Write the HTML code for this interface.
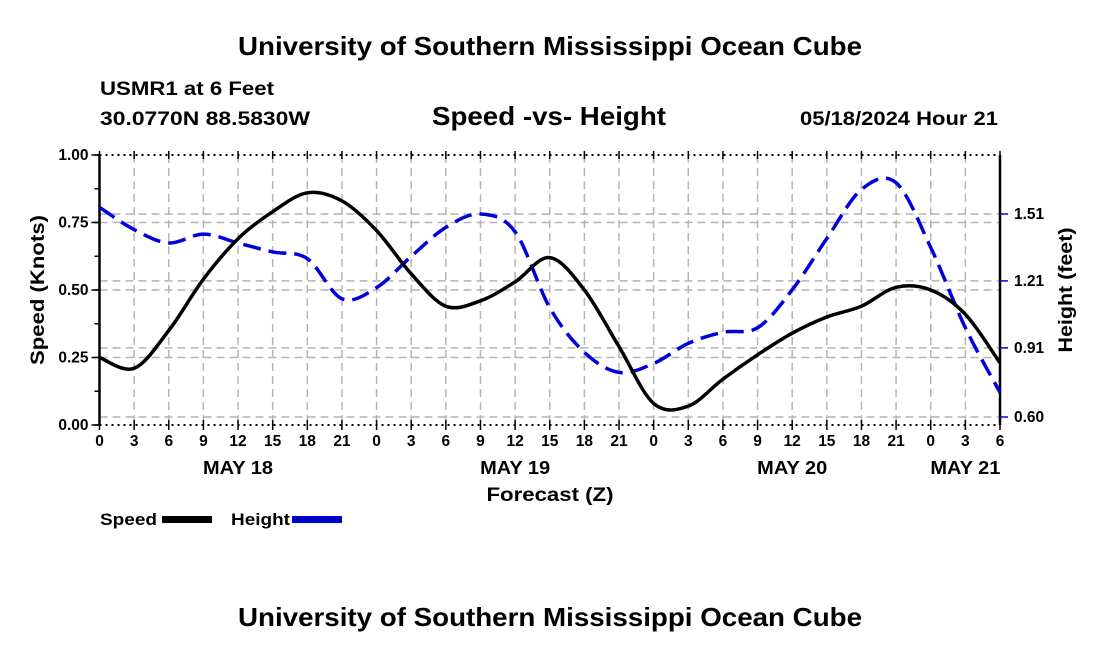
<!DOCTYPE html>
<html><head><meta charset="utf-8"><style>
body{margin:0;background:#fff;}
svg{display:block;font-family:"Liberation Sans",Arial,sans-serif;font-weight:bold;}
</style></head><body>
<svg id="chart" width="1100" height="650" viewBox="0 0 1100 650" xmlns="http://www.w3.org/2000/svg">
<text x="550" y="55" text-anchor="middle" font-size="26" textLength="624" lengthAdjust="spacingAndGlyphs">University of Southern Mississippi Ocean Cube</text>
<text x="100" y="95" font-size="19" textLength="174" lengthAdjust="spacingAndGlyphs">USMR1 at 6 Feet</text>
<text x="100" y="125" font-size="19" textLength="210" lengthAdjust="spacingAndGlyphs">30.0770N  88.5830W</text>
<text x="549" y="125" text-anchor="middle" font-size="26" textLength="234" lengthAdjust="spacingAndGlyphs">Speed -vs- Height</text>
<text x="998" y="125" text-anchor="end" font-size="19" textLength="198" lengthAdjust="spacingAndGlyphs">05/18/2024 Hour 21</text>
<text x="550" y="626" text-anchor="middle" font-size="26" textLength="624" lengthAdjust="spacingAndGlyphs">University of Southern Mississippi Ocean Cube</text>
<g id="grid"></g>
<g id="axes"></g>
<g id="series"></g>
<text x="550" y="501" text-anchor="middle" font-size="19" textLength="127" lengthAdjust="spacingAndGlyphs">Forecast (Z)</text>
<text transform="translate(44,290) rotate(-90)" text-anchor="middle" font-size="19" textLength="150" lengthAdjust="spacingAndGlyphs">Speed (Knots)</text>
<text transform="translate(1072,290) rotate(-90)" text-anchor="middle" font-size="19" textLength="125" lengthAdjust="spacingAndGlyphs">Height (feet)</text>
<g>
<text x="100" y="525" font-size="17" textLength="57" lengthAdjust="spacingAndGlyphs">Speed</text>
<rect x="162" y="516" width="50" height="7" fill="#000"/>
<text x="231" y="525" font-size="17" textLength="59" lengthAdjust="spacingAndGlyphs">Height</text>
<rect x="292" y="516" width="50" height="7" fill="#0000dd"/>
<line x1="294" y1="519.5" x2="342" y2="519.5" stroke="#00008a" stroke-width="1.5" stroke-dasharray="7,4"/>
</g>
</svg>
<script>
const hourLabels=["0","3","6","9","12","15","18","21","0","3","6","9","12","15","18","21","0","3","6","9","12","15","18","21","0","3","6"];
const dayLabels=["MAY 18","MAY 19","MAY 20","MAY 21"];
const dayLabelIndex=[4,12,20,25];
const speedTicks=[0,0.25,0.5,0.75,1.0];
const heightTicks=[0.60,0.91,1.21,1.51];
const speed=[0.25,0.21,0.35,0.54,0.69,0.79,0.86,0.83,0.72,0.56,0.44,0.46,0.53,0.62,0.50,0.29,0.08,0.07,0.17,0.26,0.34,0.40,0.44,0.51,0.50,0.41,0.23];
const height=[1.54,1.44,1.38,1.42,1.38,1.34,1.31,1.13,1.18,1.32,1.45,1.51,1.43,1.09,0.89,0.80,0.84,0.93,0.98,1.00,1.17,1.40,1.62,1.65,1.36,1.00,0.71];
const NS="http://www.w3.org/2000/svg";
const X0=99.5,X1=1000,YT=155,YB=425;
const xs=i=>X0+(X1-X0)*i/(hourLabels.length-1);
const ys=v=>YB-(YB-YT)*v/1.0;
const yh=h=>417-(h-0.60)*203/0.91;
function mk(tag,attrs,parent){const e=document.createElementNS(NS,tag);for(const k in attrs)e.setAttribute(k,attrs[k]);parent.appendChild(e);return e;}
const grid=document.getElementById('grid'),axes=document.getElementById('axes'),series=document.getElementById('series');
const gs={stroke:"#b4b4b4","stroke-width":1.5,"stroke-dasharray":"8,5"};
for(let i=1;i<hourLabels.length-1;i++){
 const l=mk('line',Object.assign({x1:xs(i),x2:xs(i),y1:YT,y2:YB},gs),grid);
 
 
}
speedTicks.slice(1,4).forEach(v=>{
 const l=mk('line',Object.assign({x1:X0,x2:X1,y1:ys(v),y2:ys(v)},gs),grid);
 
 
});
heightTicks.forEach(h=>{
 const l=mk('line',Object.assign({x1:X0,x2:X1,y1:yh(h),y2:yh(h)},gs),grid);
 
 
});
let b=mk('line',{x1:X0,x2:X1,y1:YT,y2:YT,stroke:"#000","stroke-width":2,"stroke-dasharray":"2,4"},axes);


b=mk('line',{x1:X0,x2:X1,y1:YB,y2:YB,stroke:"#000","stroke-width":2,"stroke-dasharray":"2,4"},axes);


b=mk('line',{x1:X0,x2:X0,y1:YT,y2:YB,stroke:"#000","stroke-width":2.5},axes);


b=mk('line',{x1:X1,x2:X1,y1:YT,y2:YB,stroke:"#000","stroke-width":2.5},axes);


hourLabels.forEach((t,i)=>{
 mk('line',{x1:xs(i),x2:xs(i),y1:YB-5,y2:YB+5,stroke:"#000","stroke-width":1.5},axes);
 mk('line',{x1:xs(i),x2:xs(i),y1:YT-4,y2:YT+4,stroke:"#000","stroke-width":1.5},axes);
 const tx=mk('text',{x:xs(i),y:YB+21,"text-anchor":"middle","font-size":15.5},axes);
 tx.textContent=t;
 
 
});
dayLabels.forEach((d,k)=>{
 const tx=mk('text',{x:xs(dayLabelIndex[k]),y:474,"text-anchor":"middle","font-size":18,textLength:70,lengthAdjust:"spacingAndGlyphs"},axes);
 tx.textContent=d;
 
 
});
for(let v=0;v<=1.0001;v+=0.125){mk('line',{x1:X0-5,x2:X0,y1:ys(v),y2:ys(v),stroke:"#000","stroke-width":1.5},axes);}
speedTicks.forEach(v=>{
 mk('line',{x1:X0-8,x2:X0,y1:ys(v),y2:ys(v),stroke:"#000","stroke-width":1.5},axes);
 const tx=mk('text',{x:X0-11,y:ys(v)+5,"text-anchor":"end","font-size":15.5},axes);
 tx.textContent=v.toFixed(2);
 
 
});
heightTicks.forEach(h=>{
 mk('line',{x1:X1,x2:X1+8,y1:yh(h),y2:yh(h),stroke:"#0000dd","stroke-width":1.5},axes);
 const tx=mk('text',{x:X1+14,y:yh(h)+5,"font-size":15.5},axes);
 tx.textContent=h.toFixed(2);
 
 
});
function smooth(pts){
 let d=`M${pts[0][0]},${pts[0][1]}`;
 for(let i=0;i<pts.length-1;i++){
  const p0=pts[Math.max(0,i-1)],p1=pts[i],p2=pts[i+1],p3=pts[Math.min(pts.length-1,i+2)];
  const c1=[p1[0]+(p2[0]-p0[0])/6,p1[1]+(p2[1]-p0[1])/6];
  const c2=[p2[0]-(p3[0]-p1[0])/6,p2[1]-(p3[1]-p1[1])/6];
  d+=` C${c1[0]},${c1[1]} ${c2[0]},${c2[1]} ${p2[0]},${p2[1]}`;
 }
 return d;
}
const hp=mk('path',{d:smooth(height.map((h,i)=>[xs(i),yh(h)])),fill:"none",stroke:"#0000dd","stroke-width":3.5,"stroke-dasharray":"18,8"},series);


const sp=mk('path',{d:smooth(speed.map((v,i)=>[xs(i),ys(v)])),fill:"none",stroke:"#000","stroke-width":3.5},series);


</script>
</body></html>
